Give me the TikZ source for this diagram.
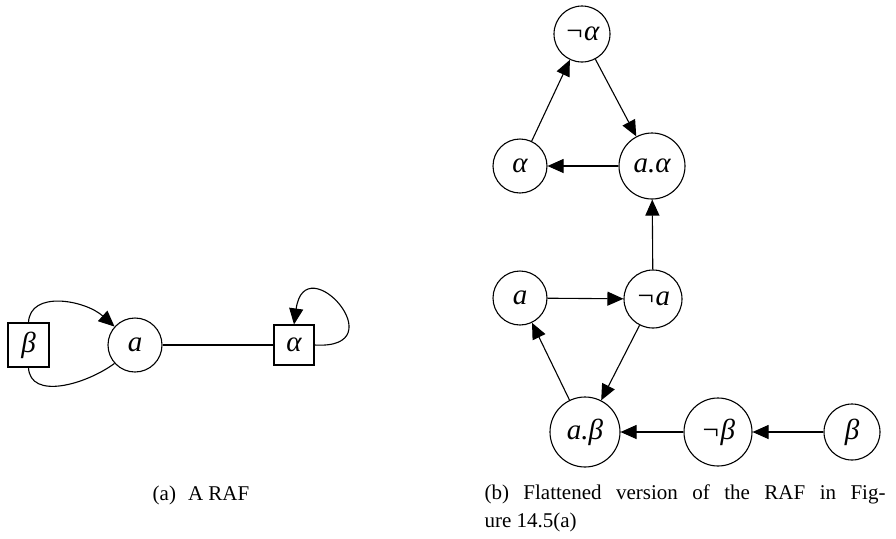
\documentclass[tikz,border=0pt]{standalone}
\usepackage{fontspec}
\setmainfont{Liberation Serif}
\usetikzlibrary{arrows.meta, positioning}

\begin{document}
\begin{tikzpicture}[x=0.5pt, y=-0.5pt, line width=0.55pt,
    arg/.style={circle, draw, inner sep=0pt, font=\fontsize{14.5}{17}\selectfont\itshape},
    sarg/.style={rectangle, draw, inner sep=0pt, font=\fontsize{14.5}{17}\selectfont\itshape},
    att/.style={-{Triangle[length=8pt,width=7pt]}},
    captext/.style={inner sep=0pt, font=\fontsize{10.5}{14}\selectfont}]
    \useasboundingbox (0,0) rectangle (896,538);
    % (a) the RAF
    \node[sarg, minimum width=20.5pt, minimum height=22pt] (lb) at (28.5,345) {β};
    \node[arg, minimum size=27pt] (la) at (135,345) {a};
    \node[sarg, minimum size=20pt] (lal) at (294,345) {α};
    \draw (la) -- (lal);
    \draw[att] (lb.north) .. controls (30,290) and (85,300) .. (la.138);
    \draw (lb.south) .. controls (30,400) and (85,385) .. (la.222);
    \draw[att] (lal.east) .. controls (398,350) and (305,245) .. (lal.north);
    % (b) flattened version
    \node[arg, minimum size=28pt] (nal) at (582,34) {¬α};
    \node[arg, minimum size=27pt] (al) at (520,166) {α};
    \node[arg, minimum size=33pt] (aal) at (652,166) {a.α};
    \node[arg, minimum size=27pt] (a) at (520,298) {a};
    \node[arg, minimum size=29pt] (na) at (653,299) {¬a};
    \node[arg, minimum size=35pt] (abe) at (585,432) {a.β};
    \node[arg, minimum size=34pt] (nbe) at (718,432) {¬β};
    \node[arg, minimum size=28pt] (be) at (852,432) {β};
    \draw[att] (al) -- (nal);
    \draw[att] (nal) -- (aal);
    \draw[att] (aal) -- (al);
    \draw[att] (na) -- (aal);
    \draw[att] (a) -- (na);
    \draw[att] (na) -- (abe);
    \draw[att] (abe) -- (a);
    \draw[att] (be) -- (nbe);
    \draw[att] (nbe) -- (abe);
    % captions
    \node[captext] (capa) at (201,495) {(a)\hspace{6pt}A RAF};
    \node[captext, anchor=north west, align=left] (capb) at (484,484)
        {\makebox[200.5pt][s]{(b) Flattened version of the RAF in Fig-}\\ure 14.5(a)};
\end{tikzpicture}
\end{document}
